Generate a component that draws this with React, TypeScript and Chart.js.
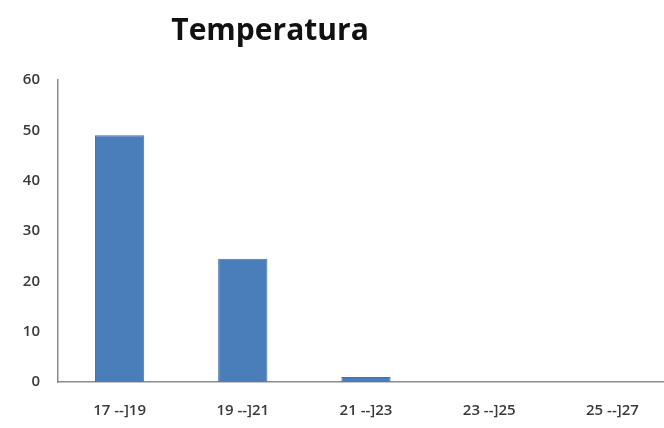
import React, { useEffect, useRef } from "react";
import { Chart, registerables } from "chart.js";

Chart.register(...registerables);

const categories = ["17 --]19", "19 --]21", "21 --]23", "23 --]25", "25 --]27"];
const values = [49, 24.5, 1, 0, 0];
const yTicks = [0, 10, 20, 30, 40, 50, 60];
const titleText = "Temperatura";

const titlePlugin = {
  id: "customTitle",
  afterDraw(chart: any) {
    const ctx = chart.ctx;
    ctx.save();
    ctx.font = "bold 30px 'Open Sans', sans-serif";
    ctx.fillStyle = "#111111";
    ctx.textAlign = "center";
    ctx.textBaseline = "middle";
    ctx.fillText(titleText, 270, 31);
    ctx.restore();
  },
};

export default function App() {
  const ref = useRef<HTMLCanvasElement | null>(null);
  useEffect(() => {
    if (!ref.current) return;
    const chart = new Chart(ref.current, {
      type: "bar",
      data: {
        labels: categories,
        datasets: [
          {
            data: values,
            backgroundColor: "#4a7ebb",
            borderColor: "#3e6fae",
            borderWidth: 1,
            barPercentage: 0.4,
            categoryPercentage: 1,
          },
        ],
      },
      options: {
        animation: false,
        responsive: false,
        devicePixelRatio: 1,
        layout: { padding: { top: 80, right: 6, left: 0, bottom: 0 } },
        plugins: {
          legend: { display: false },
          title: { display: false },
          tooltip: { enabled: false },
        },
        scales: {
          x: {
            grid: { display: false, drawTicks: false },
            border: { display: true, color: "#8c8c8c", width: 1.5 },
            ticks: {
              padding: 20,
              color: "#3a3a3a",
              font: { family: "'Open Sans', sans-serif", size: 15, weight: 600 },
              maxRotation: 0,
            },
            afterFit(scale: any) {
              scale.height = 46;
            },
          },
          y: {
            min: 0,
            max: 60,
            afterBuildTicks(scale: any) {
              scale.ticks = yTicks.map((v) => ({ value: v }));
            },
            grid: { display: false, drawTicks: false },
            border: { display: true, color: "#8c8c8c", width: 1.5 },
            ticks: {
              padding: 18,
              color: "#3a3a3a",
              font: { family: "'Open Sans', sans-serif", size: 15, weight: 600 },
            },
            afterFit(scale: any) {
              scale.width = 58;
            },
          },
        },
      },
      plugins: [titlePlugin],
    });
    return () => chart.destroy();
  }, []);
  return (
    <div
      style={{
        position: "fixed",
        left: 0,
        top: 0,
        width: 664,
        height: 428,
        overflow: "hidden",
        background: "#ffffff",
      }}
    >
      <canvas ref={ref} width={680} height={428} style={{ display: "block" }} />
    </div>
  );
}
